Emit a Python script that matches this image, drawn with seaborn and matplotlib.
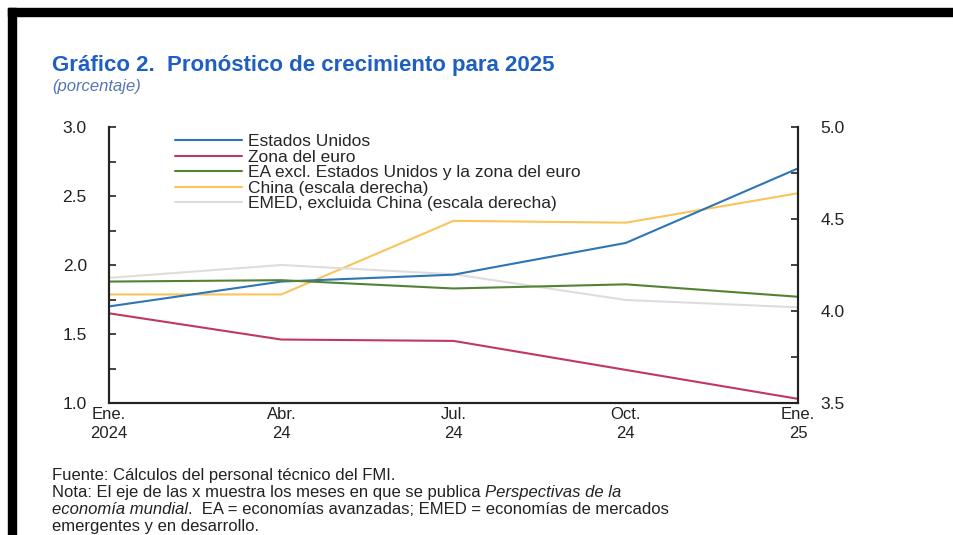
import numpy as np
import pandas as pd
import seaborn as sns
import matplotlib.pyplot as plt
from matplotlib.lines import Line2D
from matplotlib.patches import Rectangle

# data
fechas = ["Ene.\n2024", "Abr.\n24", "Jul.\n24", "Oct.\n24", "Ene.\n25"]
estados_unidos = [1.70, 1.88, 1.93, 2.16, 2.70]
zona_euro = [1.65, 1.46, 1.45, 1.24, 1.03]
ea_excl = [1.88, 1.89, 1.83, 1.86, 1.77]
china = [4.09, 4.09, 4.49, 4.48, 4.64]
emed_excl_china = [4.18, 4.25, 4.20, 4.06, 4.02]

nombres_izq = ["Estados Unidos", "Zona del euro",
               "EA excl. Estados Unidos y la zona del euro"]
nombres_der = ["China (escala derecha)", "EMED, excluida China (escala derecha)"]
colores = ["#2E75B6", "#C0385E", "#548235", "#F9C45C", "#DDDDDD"]

sns.set_theme(style="white")
plt.rcParams["font.family"] = ["Liberation Sans", "DejaVu Sans"]

x = np.arange(len(fechas))
df_izq = pd.DataFrame({"x": np.tile(x, 3),
                       "valor": estados_unidos + zona_euro + ea_excl,
                       "serie": np.repeat(nombres_izq, len(x))})
df_der = pd.DataFrame({"x": np.tile(x, 2),
                       "valor": china + emed_excl_china,
                       "serie": np.repeat(nombres_der, len(x))})

fig = plt.figure(figsize=(9.54, 5.35), dpi=100)
ax = fig.add_axes([0.1143, 0.2467, 0.7222, 0.5159])
ax2 = ax.twinx()

sns.lineplot(data=df_der, x="x", y="valor", hue="serie", palette=colores[3:],
             ax=ax2, linewidth=1.5, legend=False)
sns.lineplot(data=df_izq, x="x", y="valor", hue="serie", palette=colores[:3],
             ax=ax, linewidth=1.5, legend=False)
ax.set_zorder(ax2.get_zorder() + 1)
ax.patch.set_visible(False)

ax.set_xlim(0, 4)
ax.set_ylim(1.0, 3.0)
ax2.set_ylim(3.5, 5.0)
ax.set_xticks(x)
ax.set_xticklabels(fechas, linespacing=1.35)
ax.set_yticks(np.arange(1.0, 3.01, 0.5))
ax.set_yticks(np.arange(1.0, 3.01, 0.25), minor=True)
ax2.set_yticks(np.arange(3.5, 5.01, 0.5))
ax2.set_yticks(np.arange(3.5, 5.01, 0.25), minor=True)
ax.yaxis.set_major_formatter(plt.FormatStrFormatter("%.1f"))
ax2.yaxis.set_major_formatter(plt.FormatStrFormatter("%.1f"))
ax.set_xlabel("")
ax.set_ylabel("")
ax2.set_ylabel("")

for a in (ax, ax2):
    for s in a.spines.values():
        s.set_color("#222222")
        s.set_linewidth(1.5)
    a.spines["top"].set_visible(False)
ax.tick_params(axis="both", which="both", direction="in", length=5, width=1.2,
               color="#222222", labelsize=12.5, labelcolor="#222222")
ax.tick_params(axis="y", pad=16)
ax.tick_params(axis="x", pad=3, labelsize=12)
ax2.tick_params(axis="y", which="both", direction="in", length=5, width=1.2,
                color="#222222", labelsize=12.5, labelcolor="#222222", pad=16)

handles = [Line2D([], [], color=c, linewidth=1.5) for c in colores]
ax.legend(handles, nombres_izq + nombres_der, loc="upper left",
          bbox_to_anchor=(0.085, 1.0), frameon=False, fontsize=12.5,
          handlelength=3.9, handletextpad=0.35, labelspacing=0.02,
          borderaxespad=0)

fig.text(0.0545, 0.878, "Gráfico 2.  Pronóstico de crecimiento para 2025",
         fontsize=16, fontweight="bold", color="#1F5FC0", va="center")
fig.text(0.0545, 0.839, "(porcentaje)", fontsize=12, style="italic",
         color="#5575B5", va="center")

# footnote, with the italic title placed piece by piece
fig.canvas.draw()
renderer = fig.canvas.get_renderer()


def fila(y, piezas):
    xpos = 0.0545
    for texto, estilo in piezas:
        t = fig.text(xpos, y, texto, fontsize=12, style=estilo,
                     color="#222222", va="center")
        ancho = t.get_window_extent(renderer).width
        xpos += ancho / fig.bbox.width


fila(0.112, [("Fuente: Cálculos del personal técnico del FMI.", "normal")])
fila(0.080, [("Nota: El eje de las x muestra los meses en que se publica ", "normal"),
             ("Perspectivas de la", "italic")])
fila(0.048, [("economía mundial", "italic"),
             (".  EA = economías avanzadas; EMED = economías de mercados", "normal")])
fila(0.016, [("emergentes y en desarrollo.", "normal")])

# black frame along top and left edge
fig.patches.append(Rectangle((8 / 954, 1 - 16 / 535), 1, 8 / 535,
                             transform=fig.transFigure, color="black"))
fig.patches.append(Rectangle((8 / 954, 0), 8 / 954, 1 - 8 / 535,
                             transform=fig.transFigure, color="black"))

fig.savefig("out.png", dpi=100)
